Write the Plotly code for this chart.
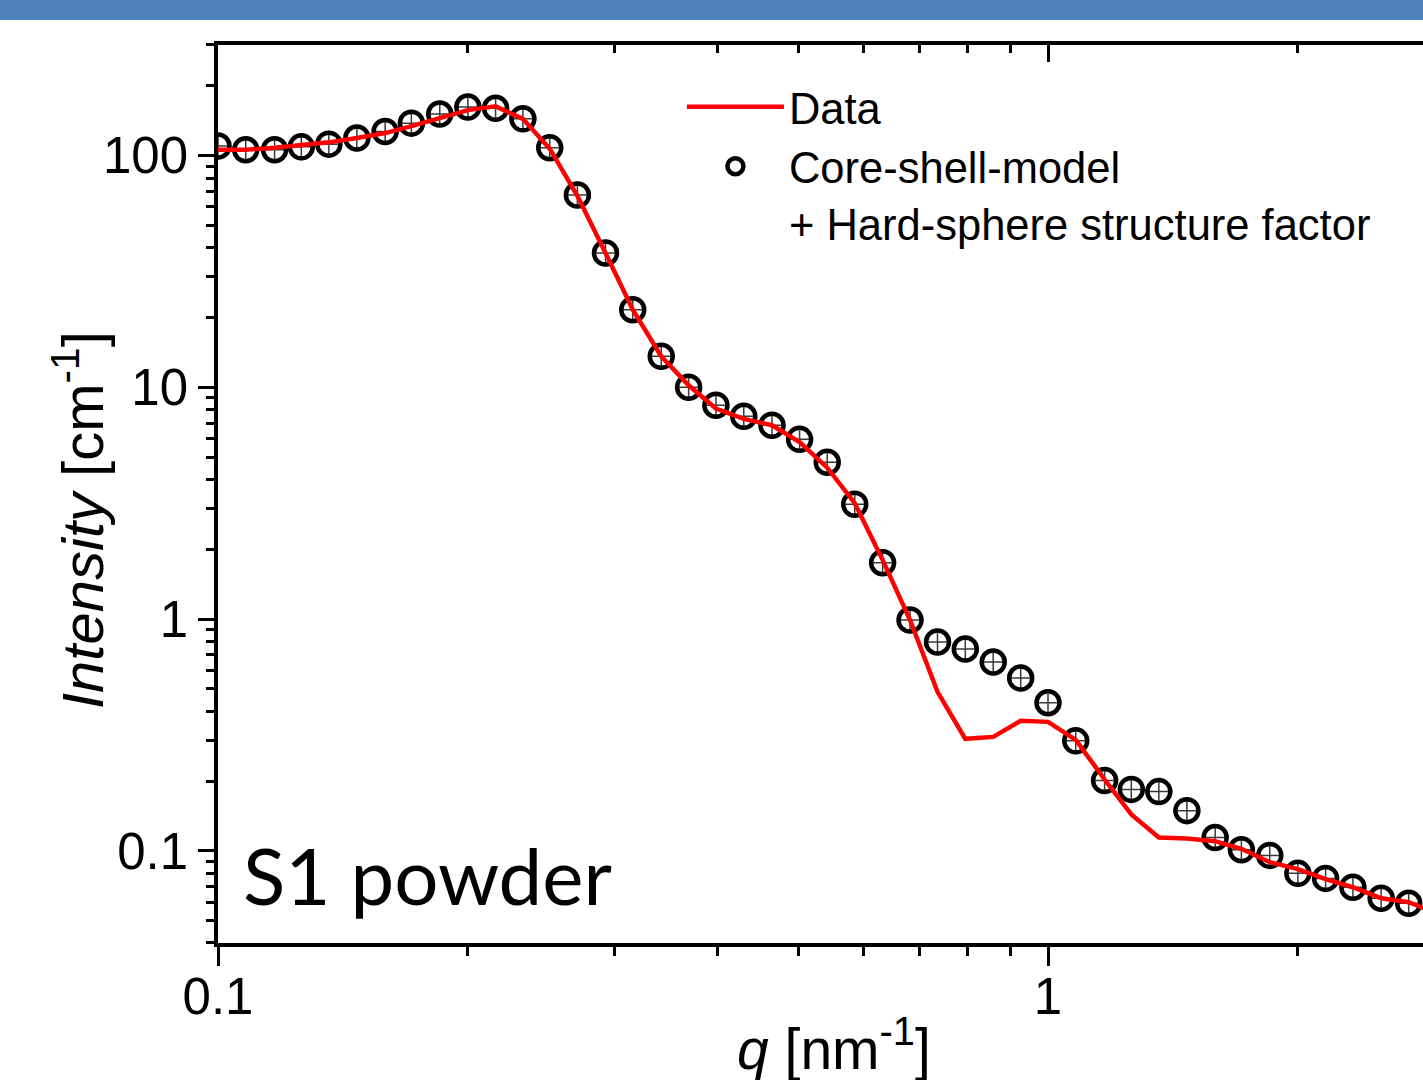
import plotly.graph_objects as go

# q values [nm^-1] (same grid for data and model)
q = [0.100, 0.108, 0.117, 0.126, 0.136, 0.147, 0.159, 0.171, 0.185, 0.200,
     0.216, 0.233, 0.251, 0.271, 0.293, 0.316, 0.342, 0.369, 0.398, 0.430,
     0.465, 0.502, 0.542, 0.585, 0.632, 0.682, 0.736, 0.795, 0.859, 0.927,
     1.00, 1.08, 1.17, 1.26, 1.36, 1.47, 1.59, 1.71, 1.85, 2.00,
     2.16, 2.33, 2.52, 2.72]

# model: core-shell + hard-sphere structure factor (open circles)
model = [110, 106, 106, 109, 112, 119, 127, 138, 151, 162,
         160, 144, 108, 67.6, 38.0, 21.6, 13.6, 10.0, 8.36, 7.50,
         6.86, 5.96, 4.75, 3.13, 1.75, 0.99, 0.796, 0.743, 0.653, 0.557,
         0.435, 0.298, 0.201, 0.184, 0.180, 0.149, 0.114, 0.101, 0.0955, 0.0799,
         0.0760, 0.0696, 0.0624, 0.0594]

# measured data (red line), one extra point past the right edge
q_data = q + [2.93]
data = [106, 106, 108, 111, 114, 119, 125, 134, 145, 157,
        163, 144, 107, 67.0, 38.0, 21.6, 13.6, 10.2, 8.1, 7.3,
        6.86, 5.8, 4.5, 3.16, 1.80, 0.99, 0.485, 0.304, 0.310, 0.364,
        0.360, 0.301, 0.203, 0.1435, 0.114, 0.113, 0.110, 0.102, 0.0893, 0.0833,
        0.0754, 0.0696, 0.0624, 0.060, 0.054]

FONT = "Liberation Sans, Arial, sans-serif"

fig = go.Figure()

# error-bar crosses inside the circles
fig.add_trace(go.Scatter(
    x=q, y=model, mode="markers", showlegend=False, hoverinfo="skip",
    marker=dict(symbol="cross-thin-open", size=19, color="#3a3a3a",
                line=dict(color="#3a3a3a", width=1.5)),
))
fig.add_trace(go.Scatter(
    x=q, y=model, mode="markers", name="Core-shell-model<br>+ Hard-sphere structure factor",
    legendrank=2,
    marker=dict(symbol="circle-open", size=23, color="black",
                line=dict(color="black", width=4.5)),
))
fig.add_trace(go.Scatter(
    x=q_data, y=data, mode="lines", name="Data", legendrank=1,
    line=dict(color="#ff0000", width=4.5),
))
# empty trace so the top (mirror) axis gets drawn
fig.add_trace(go.Scatter(x=[], y=[], xaxis="x2", showlegend=False, hoverinfo="skip"))

x_range = [-1, 0.4518]
y_range = [-1.398, 2.477]

fig.update_layout(
    width=1423, height=1080,
    margin=dict(l=218, r=0, t=45, b=137),
    paper_bgcolor="white", plot_bgcolor="white",
    font=dict(family=FONT, size=44, color="black"),
    xaxis=dict(
        type="log", range=x_range,
        tickvals=[0.1, 1], ticktext=["0.1", "1"],
        ticks="outside", ticklen=19, tickwidth=3, tickcolor="black",
        showline=True, linewidth=3.5, linecolor="black", mirror=False,
        showgrid=False, zeroline=False,
        minor=dict(dtick="D1", ticks="outside", ticklen=9, tickwidth=3,
                   tickcolor="black", showgrid=False),
        tickfont=dict(size=51, family=FONT),
        ticklabelstandoff=-13,
    ),
    xaxis2=dict(
        type="log", range=x_range, overlaying="x", side="top", anchor="y",
        tickvals=[0.1, 1], showticklabels=False,
        ticks="inside", ticklen=17, tickwidth=3, tickcolor="black",
        showline=True, linewidth=3.5, linecolor="black",
        showgrid=False, zeroline=False,
        minor=dict(dtick="D1", ticks="inside", ticklen=8, tickwidth=3,
                   tickcolor="black", showgrid=False),
    ),
    yaxis=dict(
        type="log", range=y_range,
        tickvals=[0.1, 1, 10, 100], ticktext=["0.1", "1", "10", "100"],
        ticks="outside", ticklen=16, tickwidth=3, tickcolor="black",
        showline=True, linewidth=3.5, linecolor="black",
        showgrid=False, zeroline=False,
        minor=dict(dtick="D1", ticks="outside", ticklen=8, tickwidth=3,
                   tickcolor="black", showgrid=False),
        tickfont=dict(size=51, family=FONT),
        ticklabelstandoff=0,
    ),
    legend=dict(
        x=0.385, y=0.97, xanchor="left", yanchor="top",
        bgcolor="rgba(0,0,0,0)", borderwidth=0,
        font=dict(size=43.5, family=FONT), valign="top", itemwidth=97,
        tracegroupgap=0,
    ),
    showlegend=True,
)

# axis titles placed where the reference has them
fig.add_annotation(
    text="<i>Intensity</i> [cm<sup>-1</sup>]", textangle=-90,
    xref="paper", yref="paper", x=-140 / 1205, y=(943 - 520) / 898,
    xanchor="center", yanchor="middle", showarrow=False,
    font=dict(size=58, family=FONT, color="black"),
)
fig.add_annotation(
    text="<i>q</i> [nm<sup>-1</sup>]",
    xref="paper", yref="paper", x=(834 - 218) / 1205, y=(943 - 1045) / 898,
    xanchor="center", yanchor="middle", showarrow=False,
    font=dict(size=57, family=FONT, color="black"),
)

# blue strip along the top of the slide
fig.add_shape(type="rect", xref="paper", yref="paper",
              x0=-218 / 1205, x1=1.0, y0=1 + 25 / 898, y1=1 + 46 / 898,
              fillcolor="#4f81bd", line=dict(width=0), layer="above")

fig.add_annotation(
    text="S1 powder", xref="paper", yref="paper", x=0.019, y=0.0757,
    xanchor="left", yanchor="middle", showarrow=False,
    font=dict(family="Lato, Noto Sans, sans-serif", size=78, color="black"),
)

fig.write_html("out.html", config={"displayModeBar": False},
               post_script="document.body.style.margin='0';")
